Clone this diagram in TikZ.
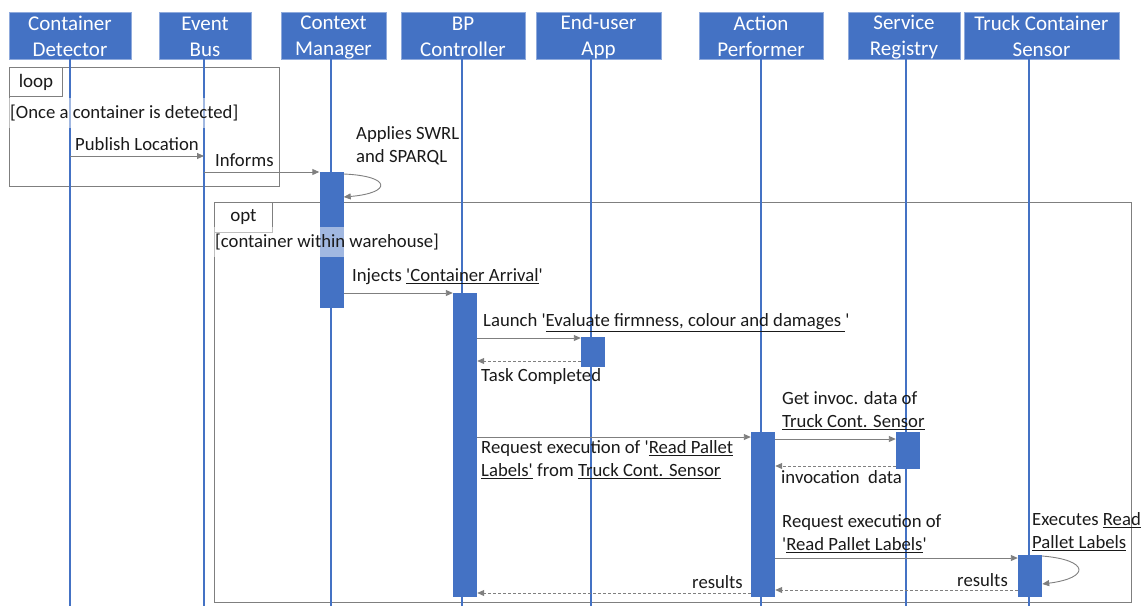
\documentclass[tikz,border=0pt]{standalone}
\usepackage{fontspec}
\setmainfont{Carlito}
\usetikzlibrary{arrows.meta}
\definecolor{hblue}{HTML}{4472C4}
\definecolor{hedge}{HTML}{8FAADC}
\definecolor{msgc}{HTML}{7F7F7F}
\definecolor{txt}{HTML}{1A1A1A}
\newcommand{\hs}{\rule[-2pt]{0pt}{19pt}}
\newcommand{\sq}{\textquotesingle}
\tikzset{
  head/.style={rectangle, fill=hblue, draw=hedge, line width=0.8pt, text=white, align=center,
    font=\fontsize{21}{26}\selectfont, inner sep=0pt, minimum height=47},
  life/.style={draw=hblue, line width=2.2pt},
  actbar/.style={rectangle, fill=hblue, draw=none, minimum width=24, inner sep=0pt, anchor=north},
  frame/.style={draw=msgc, line width=0.9pt},
  fraglabel/.style={rectangle, draw=msgc, line width=0.9pt, fill=white, inner sep=0pt,
    font=\fontsize{19}{23}\selectfont, text=txt},
  guard/.style={anchor=west, fill=white, fill opacity=0.5, text opacity=1, inner xsep=1pt, inner ysep=6.5pt,
    font=\fontsize{18.7}{23}\selectfont, text=txt},
  lbl/.style={anchor=west, inner sep=0pt, align=left, font=\fontsize{18.7}{23}\selectfont, text=txt},
  lblr/.style={anchor=east, inner sep=0pt, align=right, font=\fontsize{18.7}{23}\selectfont, text=txt},
  msg/.style={draw=msgc, line width=0.9pt, -{Triangle[length=7pt,width=6pt]}},
  ret/.style={msg, dashed, dash pattern=on 3pt off 2pt},
}
\begin{document}
\begin{tikzpicture}[x=1pt,y=-1pt]
\useasboundingbox (0,0) rectangle (1145,606);
% headers
\node[head, minimum width=122] (cd) at (70,35.5) {\hs Container\\\hs Detector};
\node[head, minimum width=92] (eb) at (205,35.5) {\hs Event\\\hs Bus};
\node[head, minimum width=105] (cm) at (333.5,35.5) {\hs Context\\\hs Manager};
\node[head, minimum width=124] (bp) at (463,35.5) {\hs BP\\\hs Controller};
\node[head, minimum width=125] (eu) at (598.5,35.5) {\hs End-user\\\hs App};
\node[head, minimum width=124] (ap) at (761,35.5) {\hs Action\\\hs Performer};
\node[head, minimum width=112] (sr) at (904,35.5) {\hs Service\\\hs Registry};
\node[head, minimum width=155] (tc) at (1041.5,35.5) {\hs Truck Container\\\hs Sensor};
% lifeline ends
\coordinate (cdT) at (70,59);   \coordinate (cdB) at (70,606);
\coordinate (ebT) at (204,59);  \coordinate (ebB) at (204,606);
\coordinate (cmT) at (331,59);  \coordinate (cmB) at (331,606);
\coordinate (bpT) at (462,59);  \coordinate (bpB) at (462,606);
\coordinate (euT) at (591,59);  \coordinate (euB) at (591,606);
\coordinate (apT) at (761,59);  \coordinate (apB) at (761,606);
\coordinate (srT) at (906,59);  \coordinate (srB) at (906,606);
\coordinate (tcT) at (1029,59); \coordinate (tcB) at (1029,606);
% frames
\draw[frame] (9,67) rectangle (279,186);
\node[fraglabel, minimum width=53, minimum height=29, anchor=north west] (loopL) at (9,67) {loop};
\draw[frame] (214,202) rectangle (1131,602);
\node[fraglabel, minimum width=58, minimum height=30, anchor=north west] (optL) at (214,202) {opt};
% lifelines
\foreach \n in {cd,eb,cm,bp,eu,ap,sr,tc} \draw[life] (\n T) -- (\n B);
% activations
\node[actbar, minimum height=136] (cmA) at (331.5,172) {};
\node[actbar, minimum height=304] (bpA) at (465,293) {};
\node[actbar, minimum height=30] (euA) at (593,337) {};
\node[actbar, minimum height=165] (apA) at (763,432) {};
\node[actbar, minimum height=37] (srA) at (908,432) {};
\node[actbar, minimum height=42] (tcA) at (1030,555) {};
% guards
\node[guard] (g1) at (9,113) {[Once a container is detected]};
\node[guard] (g2) at (214,242) {[container within warehouse]};
% messages
\draw[msg] (cdT |- 0,156) -- (ebT |- 0,156);
\node[lbl] (m1) at (75,144) {Publish Location};
\draw[msg] (ebT |- 0,172) -- (cmA.west |- 0,172);
\node[lbl] (m2) at (215,160) {Informs};
\draw[msg] (cmA.east |- 0,174) .. controls (392,176) and (392,193) .. (cmA.east |- 0,197);
\node[lbl] (m3) at (356,145.5) {Applies SWRL\\and SPARQL};
\draw[msg] (cmA.east |- 0,293) -- (bpA.west |- 0,293);
\node[lbl] (m4) at (352,277) {Injects \underline{\sq Container Arrival}\sq};
\draw[msg] (bpA.east |- 0,338) -- (euA.west |- 0,338);
\node[lbl] (m5) at (483,323) {Launch \sq\underline{Evaluate firmness, colour and damages }\sq};
\draw[ret] (euA.west |- 0,361) -- (bpA.east |- 0,361);
\node[lbl] (m6) at (481,377) {Task Completed};
\draw[msg] (bpA.east |- 0,437) -- (apA.west |- 0,437);
\node[lbl] (m7) at (481,459.5) {Request execution of \sq\underline{Read Pallet}\\\underline{Labels\sq} from \underline{Truck Cont. Sensor}};
\draw[msg] (apA.east |- 0,439) -- (srA.west |- 0,439);
\node[lbl] (m8) at (782,411) {Get invoc. data of\\\underline{Truck Cont. Sensor}};
\draw[ret] (srA.west |- 0,466) -- (apA.east |- 0,466);
\node[lbl] (m9) at (781,477) {invocation\ \ data};
\draw[msg] (apA.east |- 0,558) -- (tcA.west |- 0,558);
\node[lbl] (m10) at (782,533.5) {Request execution of\\\sq\underline{Read Pallet Labels}\sq};
\draw[msg] (tcA.east |- 0,556) .. controls (1090,560) and (1090,578) .. (tcA.east |- 0,584);
\node[lbl] (m11) at (1032,531.5) {Executes \underline{Read}\\\underline{Pallet Labels}};
\draw[ret] (tcA.west |- 0,590) -- (apA.east |- 0,590);
\node[lblr] (m12) at (1008,580) {results};
\draw[ret] (apA.west |- 0,593) -- (bpA.east |- 0,593);
\node[lblr] (m13) at (743,582) {results};
\end{tikzpicture}
\end{document}
